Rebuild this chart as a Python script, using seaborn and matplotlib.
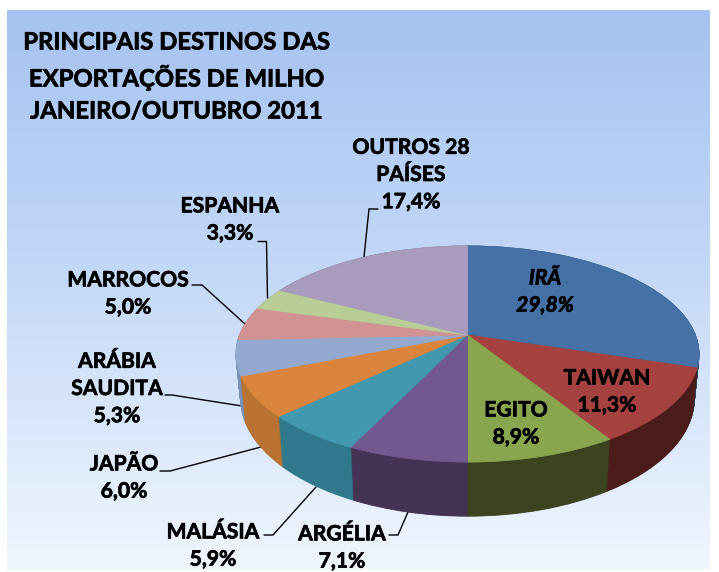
import numpy as np
import matplotlib
matplotlib.use("Agg")
import matplotlib.pyplot as plt
import matplotlib.patheffects as pe
from matplotlib.colors import LinearSegmentedColormap
from matplotlib.transforms import Transform
import seaborn as sns

title_lines = ["PRINCIPAIS DESTINOS DAS", "EXPORTAÇÕES DE MILHO", "JANEIRO/OUTUBRO 2011"]
countries = ["IRÃ", "TAIWAN", "EGITO", "ARGÉLIA", "MALÁSIA", "JAPÃO",
             "ARÁBIA\nSAUDITA", "MARROCOS", "ESPANHA", "OUTROS 28\nPAÍSES"]
shares = [29.8, 11.3, 8.9, 7.1, 5.9, 6.0, 5.3, 5.0, 3.3, 17.4]
top_colors = ["#4571A6", "#A54240", "#89A54E", "#71588F", "#4198AF",
              "#DB843D", "#93A9CF", "#D19392", "#B9CD96", "#A99BBD"]
side_colors = ["#2A4464", "#4A1C1A", "#3B441F", "#453355", "#30798C",
               "#B87333", "#7890B5", "#8E5F5E", "#7F8F62", "#6F6480"]

label_pos = [(545, 292), (607, 392), (516, 424), (342, 548), (213, 546),
             (124, 478), (117, 389), (128, 294), (230, 220), (411, 175)]
leaders = [[(389, 535), (398, 535), (408, 512)],
           [(264, 535), (273, 535), (316, 487)],
           [(160, 471), (170, 471), (261, 447)],
           [(165, 395), (172, 395), (242, 406)],
           [(192, 285), (202, 285), (245, 324)],
           [(258, 241.5), (266.5, 241.5), (267.5, 298)],
           [(378, 209), (369, 209), (364, 257)]]


class Perspective(Transform):
    input_dims = 2
    output_dims = 2
    is_separable = False
    has_inverse = False

    def __init__(self, t=0.0):
        super().__init__()
        self.t = t

    def transform_non_affine(self, values):
        values = np.asarray(values, dtype=float)
        x, y = values[:, 0], values[:, 1]
        w = 1 + 0.176 * y
        sx = 1 - 0.02 * self.t
        sy = 1 + 0.09 * self.t
        px = 467.5 + sx * 227.9 * x / w
        py = 335 + 42.7 * self.t - sy * 104.7 * y / w
        return np.column_stack([px, py])


sns.set_theme(style="white")
plt.rcParams["font.family"] = ["Lato", "DejaVu Sans"]

fig = plt.figure(figsize=(7.19, 5.72), dpi=100, facecolor="white")
ax = fig.add_axes([0, 0, 1, 1])

grad = LinearSegmentedColormap.from_list("bg", ["#A5C3F0", "#C6DAF8", "#F0F6FE"])
ax.imshow(np.linspace(0, 1, 256)[:, None], cmap=grad, aspect="auto",
          extent=(7, 710, 570, 10), zorder=0)


def draw_layer(colors, t, z):
    wedges, _ = ax.pie(shares, colors=sns.color_palette(colors), startangle=90,
                       counterclock=False, radius=1)
    tr = Perspective(t) + ax.transData
    for w in wedges:
        w.set_edgecolor(w.get_facecolor())
        w.set_linewidth(0.6)
        w.set_transform(tr)
        w.set_clip_on(False)
        w.set_zorder(z)


for i, t in enumerate(np.linspace(1, 0, 64)):
    draw_layer(side_colors, t, 3 + i * 0.001)
draw_layer(top_colors, 0, 4)

ax.set_aspect("auto")
ax.set_xlim(0, 719)
ax.set_ylim(572, 0)
ax.set_axis_off()

for line in leaders:
    xs, ys = zip(*line)
    ax.plot(xs, ys, color="black", lw=1.0, zorder=2, solid_joinstyle="miter")

heavier = [pe.withStroke(linewidth=0.5, foreground="black")]

for line, y in zip(title_lines, (42, 77, 111)):
    ax.text(176, y, line, ha="center", va="center", fontsize=17.2,
            fontweight="bold", color="black", zorder=6, path_effects=heavier)

for i, (name, share, (x, y)) in enumerate(zip(countries, shares, label_pos)):
    txt = f"{name}\n{share:.1f}%".replace(".", ",")
    ax.text(x, y, txt, ha="center", va="center", fontsize=15.2, fontweight="bold",
            fontstyle="italic" if i == 0 else "normal", linespacing=1.45,
            color="black", zorder=6, path_effects=heavier)

fig.savefig("out.png", dpi=100)
